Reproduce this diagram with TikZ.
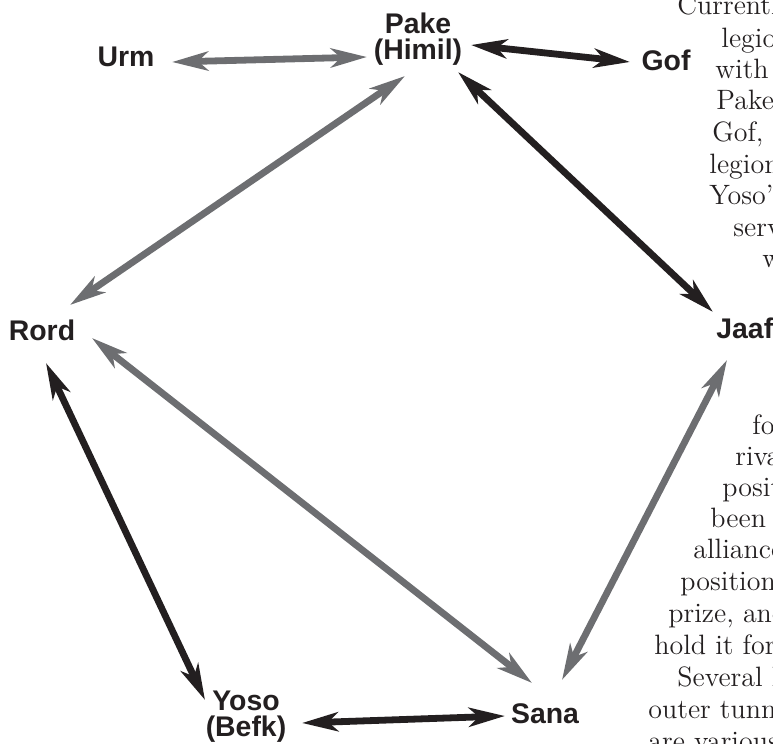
\documentclass[tikz,border=0pt]{standalone}
\usepackage{fontspec}
\usetikzlibrary{arrows.meta}
\newfontfamily\labelfont{Liberation Sans}
\definecolor{inkblack}{HTML}{231F20}
\definecolor{inkgray}{HTML}{6D6E71}

\begin{document}
\begin{tikzpicture}[x=0.5pt,y=-0.5pt,>={Stealth[length=18pt,width=9.5pt,inset=5pt]}]
    \tikzstyle{faction}=[inner sep=0pt,align=center,text=inkblack,font=\labelfont\bfseries\fontsize{14.2}{13}\selectfont]
    \tikzstyle{link}=[<->,line width=3.4pt]
    \tikzstyle{ally link}=[link,draw=inkblack]
    \tikzstyle{rival link}=[link,draw=inkgray]
    \tikzstyle{story}=[anchor=base west,inner sep=0pt,text=inkblack,font=\fontsize{14}{15}\selectfont]

    \useasboundingbox (0,0) rectangle (773,744);
    \clip (0,0) rectangle (773,744);

    % Draw the factions
    \node[faction] (urm) at (126,57) {Urm};
    \node[faction] (pake) at (418,39) {Pake\\(Himil)};
    \node[faction] (gof) at (666,60) {Gof};
    \node[faction,anchor=west] (jaaf) at (716,328) {Jaaf};
    \node[faction] (rord) at (42,330) {Rord};
    \node[faction] (yoso) at (246,717) {Yoso\\(Befk)};
    \node[faction] (sana) at (545,714) {Sana};

    % Connect the factions, dark for allies and grey for rivals
    \draw[rival link] ([shift={(46,5)}]urm.center) -- ([shift={(-51,18)}]pake.center);
    \draw[ally link] ([shift={(53,6)}]pake.center) -- ([shift={(-36,2)}]gof.center);
    \draw[ally link] ([shift={(40,33)}]pake.center) -- ([shift={(-3,-16)}]jaaf.west);
    \draw[rival link] ([shift={(-13,37)}]pake.center) -- ([shift={(28,-25)}]rord.center);
    \draw[rival link] ([shift={(50,8)}]rord.center) -- ([shift={(-13,-31)}]sana.center);
    \draw[ally link] ([shift={(4,33)}]rord.center) -- ([shift={(-41,-17)}]yoso.center);
    \draw[ally link] ([shift={(56,6)}]yoso.center) -- ([shift={(-40,2)}]sana.center);
    \draw[rival link] ([shift={(11,32)}]jaaf.west) -- ([shift={(17,-34)}]sana.center);

    % Text running past the right edge
    \foreach \x/\y/\words [count=\i] in {677/15/Currently, 721/47/legions, 715/78/with,
            716/110/{Pake,}, 712/141/{Gof, Jaaf}, 709/173/legions, 709/204/Yoso's,
            733/236/serve, 762/267/w,
            752/434/for, 735/465/rival, 722/496/positions, 710/527/been,
            693/558/alliance, 680/590/position, 668/622/{prize, and},
            654/654/hold it for, 677/686/Several legions, 648/718/outer tunnels,
            648/750/are various}
        \node[story] (line-\i) at (\x,\y) {\words};
\end{tikzpicture}
\end{document}
